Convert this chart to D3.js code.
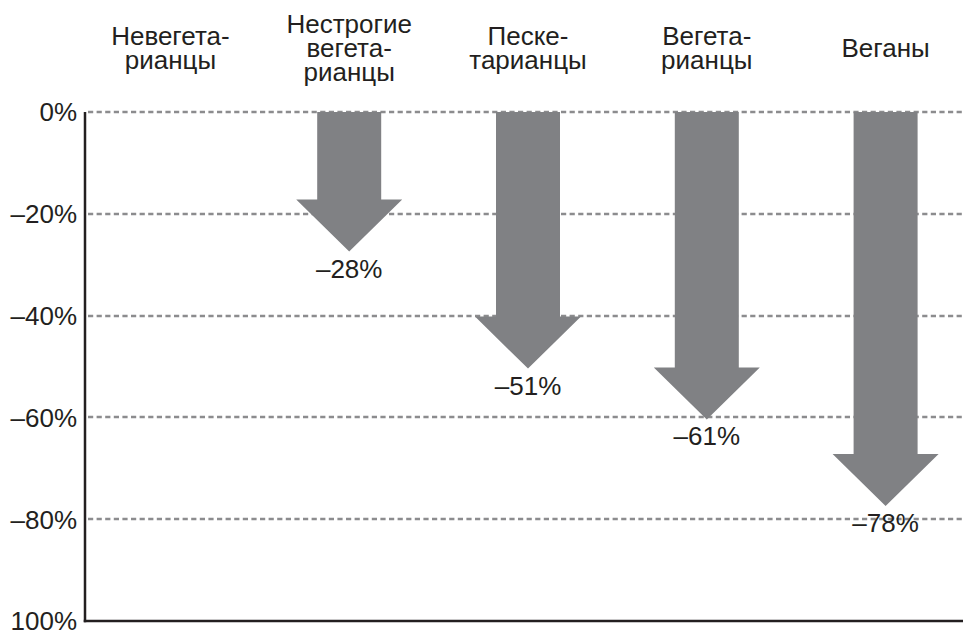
<!DOCTYPE html>
<html>
<head>
<meta charset="utf-8">
<script src="https://cdn.jsdelivr.net/npm/d3@7"></script>
<style>
  body { margin: 0; background: #fff; }
  text { font-family: "Liberation Sans", Arial, sans-serif; fill: #231f20; }
</style>
</head>
<body>
<div id="wrapper"></div>
<script>
// data
const categories = ["Невегетарианцы", "Нестрогие вегетарианцы", "Пескетарианцы", "Вегетарианцы", "Веганы"]
const categoryLines = [
  ["Невегета-", "рианцы"],
  ["Нестрогие", "вегета-", "рианцы"],
  ["Песке-", "тарианцы"],
  ["Вегета-", "рианцы"],
  ["Веганы"],
]
const changes = [null, -28, -51, -61, -78]
const valueLabels = [null, "–28%", "–51%", "–61%", "–78%"]
const yTicks = [0, -20, -40, -60, -80, -100]
const yTickLabels = ["0%", "–20%", "–40%", "–60%", "–80%", "100%"]

const width = 963
const height = 630

const svg = d3.select("#wrapper")
  .append("svg")
  .attr("width", width)
  .attr("height", height)

// scales
const xScale = d3.scaleBand()
  .domain(categories)
  .range([81, 975])

const yScale = d3.scaleLinear()
  .domain([0, -100])
  .range([112, 621])

const axisX = 85
const center = c => xScale(c) + xScale.bandwidth() / 2

// gridlines
svg.append("g")
  .selectAll("line")
  .data(yTicks.slice(0, -1))
  .join("line")
    .attr("x1", axisX + 3)
    .attr("x2", width)
    .attr("y1", d => Math.round(yScale(d)))
    .attr("y2", d => Math.round(yScale(d)))
    .attr("stroke", "#8c8c8e")
    .attr("stroke-width", 2.6)
    .attr("stroke-dasharray", "5.2,3.4")

// tick labels
svg.append("g")
  .selectAll("text")
  .data(yTicks)
  .join("text")
    .attr("x", 77)
    .attr("y", d => yScale(d))
    .attr("dy", "0.36em")
    .attr("text-anchor", "end")
    .style("font-size", "26px")
    .text((d, i) => yTickLabels[i])

// category labels
const catLabels = svg.append("g")
  .selectAll("text")
  .data(categories)
  .join("text")
    .attr("text-anchor", "middle")
    .style("font-size", "26px")

catLabels.each(function (d, i) {
  const lines = categoryLines[i]
  const lh = 24
  d3.select(this).selectAll("tspan")
    .data(lines)
    .join("tspan")
      .attr("x", center(d))
      .attr("y", (l, j) => 57 + (j - (lines.length - 1) / 2) * lh)
      .text(l => l)
})

// arrows
const shaftW = 64
const headW = 106
const headH = 52
const arrowData = categories
  .map((c, i) => ({ c, v: changes[i], label: valueLabels[i] }))
  .filter(d => d.v !== null)

const arrowPath = d => {
  const cx = center(d.c)
  const y0 = yScale(0)
  const tip = yScale(d.v) - 3
  const hy = tip - headH
  return `M${cx - shaftW / 2},${y0} L${cx + shaftW / 2},${y0} L${cx + shaftW / 2},${hy}
    L${cx + headW / 2},${hy} L${cx},${tip} L${cx - headW / 2},${hy}
    L${cx - shaftW / 2},${hy} Z`
}

svg.append("g")
  .selectAll("path")
  .data(arrowData)
  .join("path")
    .attr("d", arrowPath)
    .attr("fill", "#808184")

svg.append("g")
  .selectAll("text")
  .data(arrowData)
  .join("text")
    .attr("x", d => center(d.c))
    .attr("y", d => yScale(d.v) + 23)
    .attr("text-anchor", "middle")
    .style("font-size", "26px")
    .text(d => d.label)

// axis lines
svg.append("line")
  .attr("x1", axisX).attr("x2", axisX)
  .attr("y1", yScale(0)).attr("y2", yScale(-100) + 1.25)
  .attr("stroke", "#231f20")
  .attr("stroke-width", 2.5)

svg.append("line")
  .attr("x1", axisX - 1.25).attr("x2", width)
  .attr("y1", yScale(-100)).attr("y2", yScale(-100))
  .attr("stroke", "#231f20")
  .attr("stroke-width", 2.5)
</script>
</body>
</html>
